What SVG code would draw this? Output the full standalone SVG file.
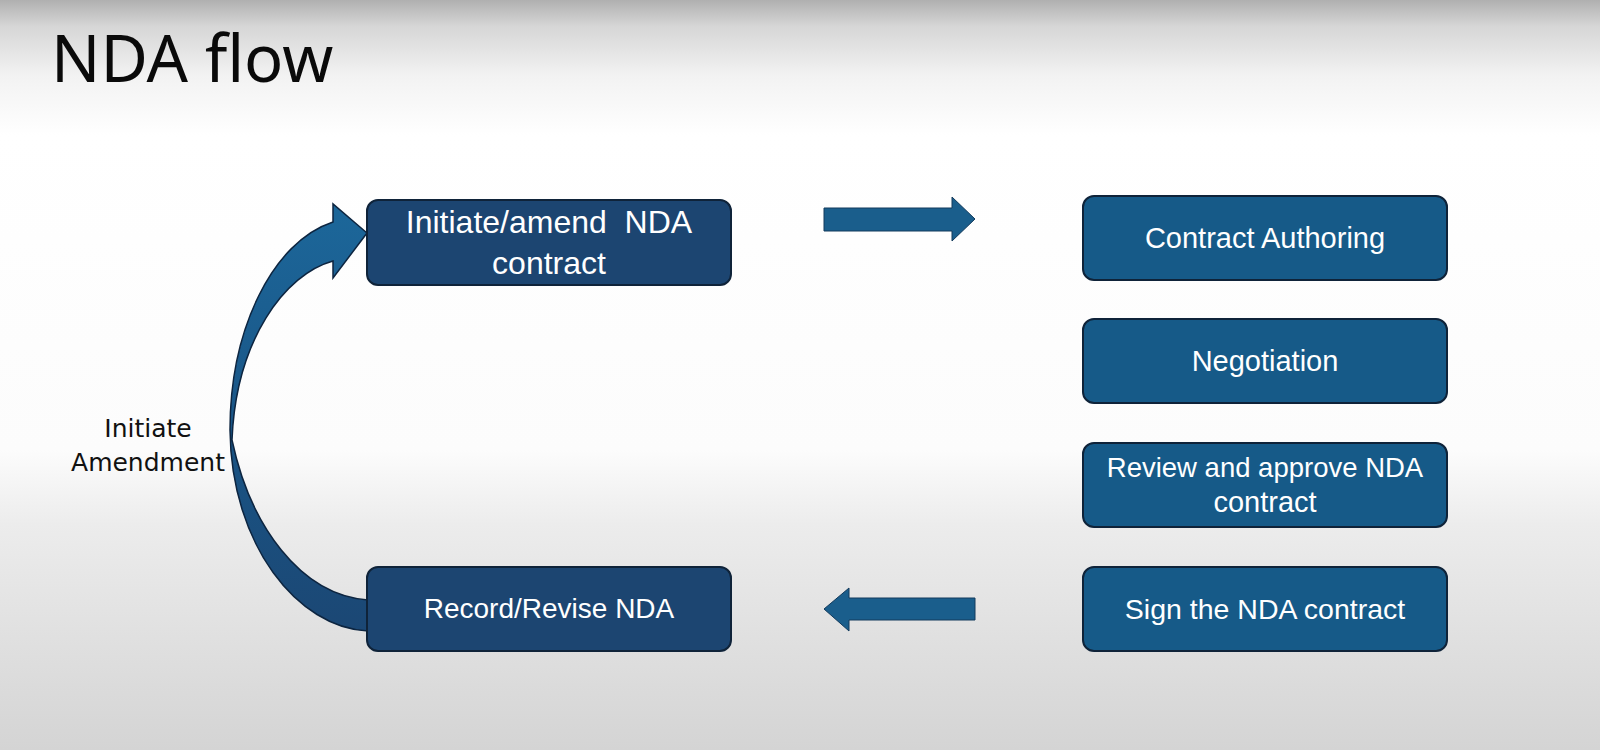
<svg xmlns="http://www.w3.org/2000/svg" width="1600" height="750" viewBox="0 0 1600 750">
<defs>
<linearGradient id="bg" x1="0" y1="0" x2="0" y2="1">
<stop offset="0" stop-color="#b0b0b0"/>
<stop offset="0.035" stop-color="#d6d6d6"/>
<stop offset="0.1" stop-color="#f2f2f2"/>
<stop offset="0.18" stop-color="#ffffff"/>
<stop offset="0.6" stop-color="#fcfcfc"/>
<stop offset="0.7" stop-color="#ececec"/>
<stop offset="1" stop-color="#d4d4d4"/>
</linearGradient>
<linearGradient id="curve" x1="0" y1="0" x2="0" y2="1">
<stop offset="0" stop-color="#1c679a"/>
<stop offset="0.5" stop-color="#1a5687"/>
<stop offset="1" stop-color="#1b4774"/>
</linearGradient>
<style>
.dark{fill:#1c4571;stroke:#0f2339;stroke-width:2}
.blue{fill:#165a88;stroke:#0f2339;stroke-width:2}
.tw{fill:#ffffff;font-family:"Liberation Sans",Arial,sans-serif;text-anchor:middle}
.tl{font-size:32px}
.tr{font-size:29px}
.arr{fill:#1a5e8c;stroke:#123a5c;stroke-width:1}
.lbl{font-family:"DejaVu Sans",sans-serif;font-size:25px;fill:#111111;text-anchor:middle}
</style>
</defs>
<rect x="0" y="0" width="1600" height="750" fill="url(#bg)"/>
<text x="51" y="82" font-family="'Noto Sans','Open Sans',sans-serif" font-size="65" fill="#0a0a0a">NDA flow</text>
<g id="connectors">
<path class="arr" d="M824,208 L952,208 L952,197 L975,219 L952,241 L952,231 L824,231 Z"/>
<path class="arr" d="M975,598 L849,598 L849,588 L824,609 L849,631 L849,620 L975,620 Z"/>
<path id="curved" fill="url(#curve)" stroke="#0d2540" stroke-width="1.5" d="M368,631 C298,628 231,545 230,430 C230,330 272,242 333,222 L333,204 L367,233 L333,278 L333,261 C285,274 236,340 232,440 C250,525 300,595 368,600 Z"/>
</g>
<text class="lbl" x="148" y="437">Initiate</text>
<text class="lbl" x="148" y="471">Amendment</text>
<g id="initiate">
<rect class="dark" x="367" y="200" width="364" height="85" rx="11"/>
<text class="tw tl" x="549" y="233" style="white-space:pre">Initiate/amend  NDA</text>
<text class="tw tl" x="549" y="274">contract</text>
</g>
<g id="record">
<rect class="dark" x="367" y="567" width="364" height="84" rx="11"/>
<text class="tw" x="549" y="618" font-size="28">Record/Revise NDA</text>
</g>
<g id="authoring">
<rect class="blue" x="1083" y="196" width="364" height="84" rx="11"/>
<text class="tw tr" x="1265" y="248">Contract Authoring</text>
</g>
<g id="negotiation">
<rect class="blue" x="1083" y="319" width="364" height="84" rx="11"/>
<text class="tw tr" x="1265" y="371">Negotiation</text>
</g>
<g id="review">
<rect class="blue" x="1083" y="443" width="364" height="84" rx="11"/>
<text class="tw" x="1265" y="477" font-size="27.5">Review and approve NDA</text>
<text class="tw tr" x="1265" y="512">contract</text>
</g>
<g id="sign">
<rect class="blue" x="1083" y="567" width="364" height="84" rx="11"/>
<text class="tw" x="1265" y="619" font-size="28.5">Sign the NDA contract</text>
</g>
</svg>
